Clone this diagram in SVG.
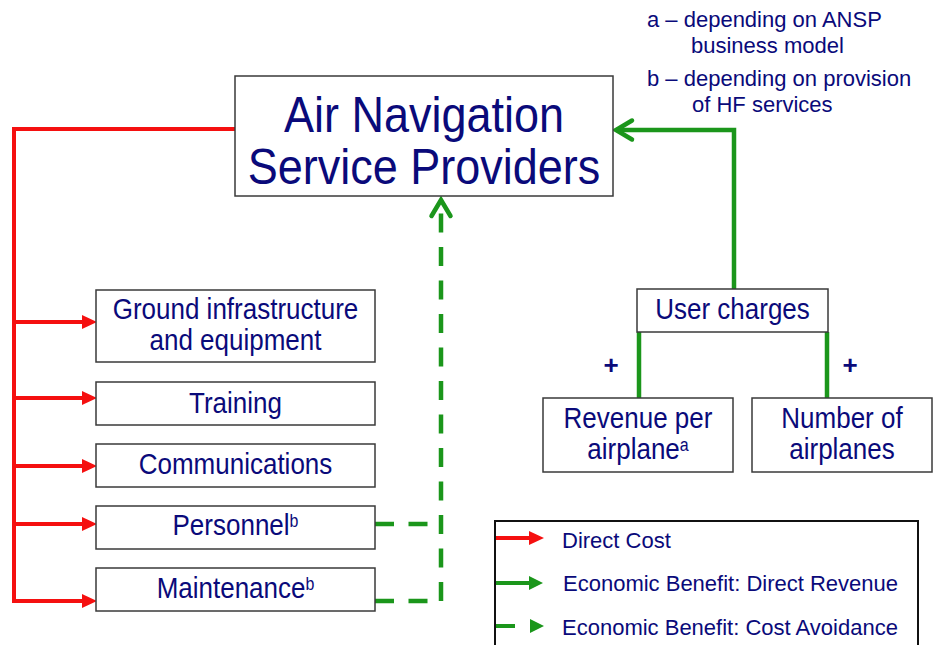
<svg xmlns="http://www.w3.org/2000/svg" width="935" height="645" viewBox="0 0 935 645">
<style>
.box{fill:#fff;stroke:#3a3a3a;stroke-width:1.5}
.t{font-family:"Liberation Sans",Arial,sans-serif;fill:#0a0a7a;text-anchor:middle}
.big{font-size:45px}
.mid{font-size:26px}
.sm{font-size:22px;text-anchor:start}
.sup{font-size:16px}
.plus{font-size:26px;font-weight:bold}
.red{fill:none;stroke:#f51010;stroke-width:4}
.grn{fill:none;stroke:#1b961b;stroke-width:4.5}
.dash{fill:none;stroke:#1b961b;stroke-width:4.5;stroke-dasharray:19 14.5}
</style>
<defs>
<marker id="redTri" markerUnits="userSpaceOnUse" viewBox="0 -8 16 16" refX="0" refY="0" markerWidth="16" markerHeight="16" orient="auto">
<path d="M0,-7 L15,0 L0,7 Z" fill="#f51010"/>
</marker>
<marker id="grnTri" markerUnits="userSpaceOnUse" viewBox="0 -8 16 16" refX="0" refY="0" markerWidth="16" markerHeight="16" orient="auto">
<path d="M0,-7 L14,0 L0,7 Z" fill="#1b961b"/>
</marker>
<marker id="chev" markerUnits="userSpaceOnUse" viewBox="-22 -14 28 28" refX="0" refY="0" markerWidth="28" markerHeight="28" orient="auto">
<path d="M-16,-9.5 L0,0 L-16,9.5" fill="none" stroke="#1b961b" stroke-width="4.5" stroke-linecap="round"/>
</marker>
</defs>
<rect width="935" height="645" fill="#fff"/>

<g id="connectors">
<path class="red" d="M235,129 H14 V601"/>
<path class="red" d="M14,322 H82" marker-end="url(#redTri)"/>
<path class="red" d="M14,398 H82" marker-end="url(#redTri)"/>
<path class="red" d="M14,466 H82" marker-end="url(#redTri)"/>
<path class="red" d="M14,524 H82" marker-end="url(#redTri)"/>
<path class="red" d="M12,601 H82" marker-end="url(#redTri)"/>
<path class="grn" d="M734,289 V130 H616" marker-end="url(#chev)"/>
<path class="grn" d="M639,332 V398"/>
<path class="grn" d="M827,332 V398"/>
<path class="dash" d="M375,524 H441"/>
<path class="dash" d="M375,601 H441"/>
<path class="dash" d="M441,601 V200" marker-end="url(#chev)"/>
</g>

<g id="ansp">
<rect class="box" x="235" y="76" width="378" height="120"/>
<text class="t big" transform="translate(424,132) scale(1,1.13)">Air Navigation</text>
<text class="t big" transform="translate(424,184) scale(1,1.13)">Service Providers</text>
</g>

<g id="ground">
<rect class="box" x="96" y="290" width="279" height="72"/>
<text class="t mid" transform="translate(235.5,319) scale(1,1.1)">Ground infrastructure</text>
<text class="t mid" transform="translate(235.5,350) scale(1,1.1)">and equipment</text>
</g>
<g id="training">
<rect class="box" x="96" y="382" width="279" height="43"/>
<text class="t mid" transform="translate(235.5,413) scale(1,1.1)">Training</text>
</g>
<g id="communications">
<rect class="box" x="96" y="444" width="279" height="43"/>
<text class="t mid" transform="translate(235.5,474) scale(1,1.1)">Communications</text>
</g>
<g id="personnel">
<rect class="box" x="96" y="506" width="279" height="43"/>
<text class="t mid" transform="translate(235.5,535) scale(1,1.1)">Personnel<tspan class="sup" dy="-7">b</tspan></text>
</g>
<g id="maintenance">
<rect class="box" x="96" y="568" width="279" height="43"/>
<text class="t mid" transform="translate(235.5,598) scale(1,1.1)">Maintenance<tspan class="sup" dy="-7">b</tspan></text>
</g>

<g id="user-charges">
<rect class="box" x="637" y="289" width="191" height="43"/>
<text class="t mid" transform="translate(732.5,319) scale(1,1.1)">User charges</text>
</g>
<g id="revenue">
<rect class="box" x="543" y="398" width="190" height="74"/>
<text class="t mid" transform="translate(638,428) scale(1,1.1)">Revenue per</text>
<text class="t mid" transform="translate(638,459) scale(1,1.1)">airplane<tspan class="sup" dy="-7">a</tspan></text>
</g>
<g id="number">
<rect class="box" x="752" y="398" width="180" height="74"/>
<text class="t mid" transform="translate(842,428) scale(1,1.1)">Number of</text>
<text class="t mid" transform="translate(842,459) scale(1,1.1)">airplanes</text>
</g>

<g id="plus-signs">
<text class="t plus" x="611" y="374">+</text>
<text class="t plus" x="850" y="374">+</text>
</g>

<g id="notes">
<text class="t sm" x="647" y="27">a – depending on ANSP</text>
<text class="t sm" x="691" y="53">business model</text>
<text class="t sm" x="647" y="86">b – depending on provision</text>
<text class="t sm" x="692" y="112">of HF services</text>
</g>

<g id="legend">
<rect x="495" y="521" width="423" height="140" fill="#fff" stroke="#111" stroke-width="2"/>
<path d="M496,538 H529" fill="none" stroke="#f51010" stroke-width="4" marker-end="url(#redTri)"/>
<path d="M496,583 H529" fill="none" stroke="#1b961b" stroke-width="4" marker-end="url(#grnTri)"/>
<path d="M496,626 H515" fill="none" stroke="#1b961b" stroke-width="4"/>
<path d="M529,626 H530" fill="none" stroke="none" marker-end="url(#grnTri)"/>
<text class="t sm" x="562" y="548">Direct Cost</text>
<text class="t sm" x="563" y="591">Economic Benefit: Direct Revenue</text>
<text class="t sm" x="562" y="635">Economic Benefit: Cost Avoidance</text>
</g>
</svg>
